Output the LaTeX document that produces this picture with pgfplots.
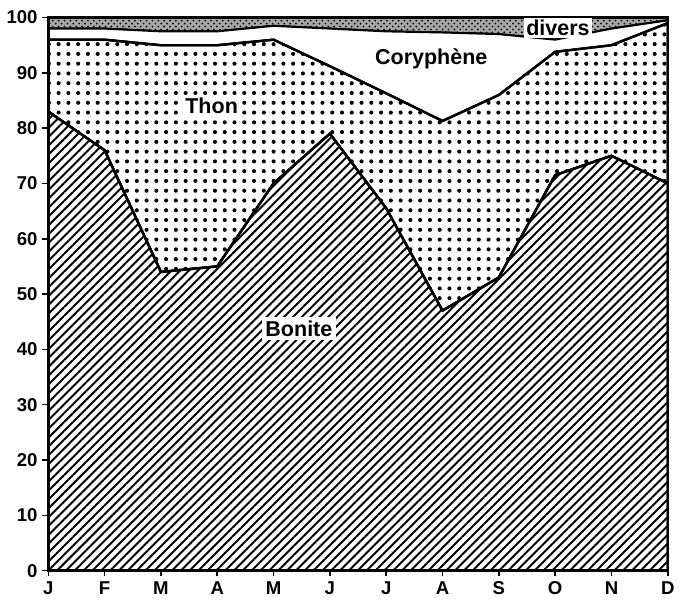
\documentclass[border=0pt]{standalone}
\usepackage{fontspec}
\setmainfont{Liberation Sans}
\usepackage{pgfplots}
\usepackage{pgfplotstable}
\pgfplotsset{compat=1.18}
\usetikzlibrary{patterns,patterns.meta}

% monthly shares (percent), stacked from the bottom
\pgfplotstableread{
m  bonite thon coryphene divers
0  83     13   2    2
1  76     20   2    2
2  54     41   2.5  2.5
3  55     40   2.5  2.5
4  70     26   2.5  1.5
5  79     12.2 6.8  2
6  65.5   20.8 11.2 2.5
7  47     34.3 16   2.7
8  53     33   11   3
9  71.5   22.3 2.2  4
10 75     20   3    2
11 70     29   0.5  0.5
}\parts

\begin{document}
\begin{tikzpicture}
\begin{axis}[
    scale only axis,
    width=317pt, height=283pt,
    xmin=0, xmax=11, ymin=0, ymax=100,
    xtick={0,...,11},
    xticklabels={J,F,M,A,M,J,J,A,S,O,N,D},
    ytick={0,10,...,100},
    xtick pos=bottom, ytick pos=left,
    tick align=outside,
    major tick length=3pt,
    tick style={black, line width=0.8pt},
    axis line style={line width=1.3pt},
    ticklabel style={font=\fontsize{9.5}{11}\bfseries\selectfont},
    xticklabel style={yshift=1pt},
    yticklabel style={xshift=1pt},
    /pgf/number format/assume math mode=true,
    stack plots=y,
    axis on top,
]
\addplot[draw=black, line width=1.2pt, fill=white,
    postaction={pattern={Lines[angle=45, distance=3.2pt, line width=1pt]}}]
    table[x=m, y=bonite] {\parts} \closedcycle;
\addplot[draw=black, line width=1.2pt, fill=white,
    postaction={pattern={Dots[distance=5pt, radius=1.05pt]}}]
    table[x=m, y=thon] {\parts} \closedcycle;
\addplot[draw=black, line width=1pt, fill=white]
    table[x=m, y=coryphene] {\parts} \closedcycle;
\addplot[draw=black, line width=1pt, fill=gray!70,
    postaction={pattern=crosshatch dots}]
    table[x=m, y=divers] {\parts} \closedcycle;

\coordinate (thon) at (axis cs:2.9,84);
\coordinate (cory) at (axis cs:6.8,92.5);
\coordinate (bon) at (axis cs:4.45,43.8);
\coordinate (div) at (axis cs:9.05,98.1);
\coordinate (top) at (axis cs:0,100);
\end{axis}
\path (top) ++(0,9pt);
\node[font=\fontsize{11}{13}\bfseries\selectfont, text=black, fill=white, inner sep=1.5pt] at (thon) {Thon};
\node[font=\fontsize{11}{13}\bfseries\selectfont, text=black] at (cory) {Coryphène};
\node[font=\fontsize{11}{13}\bfseries\selectfont, text=black, fill=white, inner sep=2pt] at (bon) {Bonite};
\node[font=\fontsize{11}{13}\bfseries\selectfont, text=black, fill=white, inner sep=1pt] at (div) {divers};
\end{tikzpicture}
\end{document}
